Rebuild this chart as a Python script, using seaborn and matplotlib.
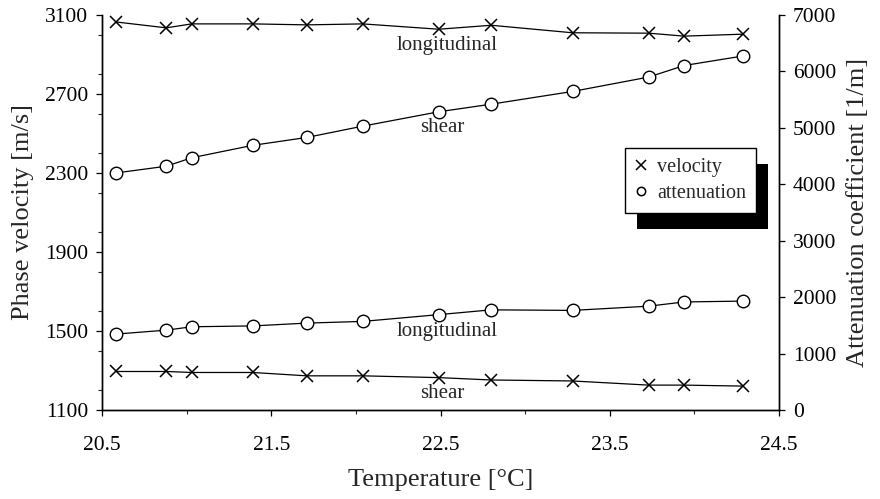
import matplotlib
matplotlib.use("Agg")
import matplotlib.pyplot as plt
from matplotlib.lines import Line2D
from matplotlib.patches import Rectangle
from matplotlib.ticker import MultipleLocator
import seaborn as sns
import pandas as pd

# Measured data: temperature sweep
temperature = [20.58, 20.88, 21.03, 21.39, 21.71, 22.04, 22.49, 22.80, 23.28, 23.73, 23.94, 24.29]
velocity_longitudinal = [3065, 3035, 3055, 3055, 3050, 3055, 3028, 3048, 3010, 3008, 2993, 3003]
velocity_shear = [1295, 1295, 1290, 1290, 1273, 1273, 1264, 1252, 1247, 1226, 1226, 1221]
attenuation_shear = [4200, 4320, 4470, 4690, 4830, 5030, 5285, 5420, 5645, 5900, 6105, 6275]
attenuation_longitudinal = [1345, 1415, 1475, 1490, 1540, 1570, 1690, 1775, 1765, 1840, 1915, 1930]

x_ticks = [20.5, 21.5, 22.5, 23.5, 24.5]
left_ticks = [1100, 1500, 1900, 2300, 2700, 3100]
right_ticks = [0, 1000, 2000, 3000, 4000, 5000, 6000, 7000]

df = pd.DataFrame({
    "T": temperature,
    "v_long": velocity_longitudinal,
    "v_shear": velocity_shear,
    "a_shear": attenuation_shear,
    "a_long": attenuation_longitudinal,
})

sns.set_theme(style="ticks")
plt.rcParams["font.family"] = ["Liberation Serif", "DejaVu Serif"]
plt.rcParams["axes.linewidth"] = 1.0

W, H = 880, 499
fig = plt.figure(figsize=(W / 100, H / 100), dpi=100)
fig.patch.set_facecolor("white")
ax = fig.add_axes([102 / W, 1 - 410 / H, (779 - 102) / W, (410 - 15) / H])
ax.set_facecolor("white")
ax2 = ax.twinx()

x_kw = dict(color="black", linewidth=0.9, marker="x", markersize=9,
            markeredgecolor="black", markeredgewidth=1.1, legend=False)
o_kw = dict(color="black", linewidth=0.9, marker="o", markersize=9,
            markerfacecolor="white", markeredgecolor="black",
            markeredgewidth=1.0, legend=False)

sns.lineplot(data=df, x="T", y="v_long", ax=ax, **x_kw)
sns.lineplot(data=df, x="T", y="v_shear", ax=ax, **x_kw)
sns.lineplot(data=df, x="T", y="a_shear", ax=ax2, **o_kw)
sns.lineplot(data=df, x="T", y="a_long", ax=ax2, **o_kw)

ax.set_xlim(20.5, 24.5)
ax.set_ylim(1100, 3100)
ax2.set_ylim(0, 7000)
ax.set_xticks(x_ticks)
ax.xaxis.set_minor_locator(MultipleLocator(0.5))
ax.set_yticks(left_ticks)
ax.yaxis.set_minor_locator(MultipleLocator(200))
ax2.set_yticks(right_ticks)

tick_fs = 15.5
for a in (ax, ax2):
    a.tick_params(axis="both", which="major", direction="out", length=4,
                  width=0.9, labelsize=tick_fs, colors="black", pad=6)
    a.tick_params(axis="both", which="minor", direction="out", length=3,
                  width=0.8)
    a.spines["top"].set_visible(False)
    for s in ("left", "right", "bottom"):
        a.spines[s].set_color("black")
ax.xaxis.set_tick_params(pad=15)

ax.set_xlabel("Temperature [°C]", fontsize=19, labelpad=10)
ax.set_ylabel("Phase velocity [m/s]", fontsize=19, labelpad=8)
ax2.set_ylabel("Attenuation coefficient [1/m]", fontsize=19, labelpad=8)

lab_fs = 15
ax.text(22.54, 2948, "longitudinal", fontsize=lab_fs, ha="center", va="center")
ax.text(22.51, 2528, "shear", fontsize=lab_fs, ha="center", va="center")
ax.text(22.54, 1500, "longitudinal", fontsize=lab_fs, ha="center", va="center")
ax.text(22.51, 1183, "shear", fontsize=lab_fs, ha="center", va="center")

handles = [
    Line2D([], [], color="black", marker="x", linestyle="none",
           markersize=7, markeredgewidth=1.1),
    Line2D([], [], color="black", marker="o", linestyle="none",
           markersize=6, markerfacecolor="white", markeredgewidth=1.1),
]
leg = fig.legend(handles, ["velocity", "attenuation"], loc="upper left",
                 bbox_to_anchor=(625 / W, 1 - 148 / H), borderaxespad=0,
                 fontsize=14.5, frameon=True, fancybox=False, shadow=False,
                 handlelength=0.6, handletextpad=0.5, borderpad=0.5,
                 labelspacing=0.35)
leg.get_frame().set_edgecolor("black")
leg.get_frame().set_linewidth(1.0)
leg.get_frame().set_alpha(1)
leg.set_zorder(6)

# solid drop shadow behind the legend box
fig.canvas.draw()
bb = leg.get_window_extent()
shadow = Rectangle((bb.x0 + 12, bb.y0 - 16), bb.width, bb.height,
                   transform=None, facecolor="black", edgecolor="none",
                   zorder=5)
fig.add_artist(shadow)

fig.savefig("out.png", dpi=100, facecolor="white")
